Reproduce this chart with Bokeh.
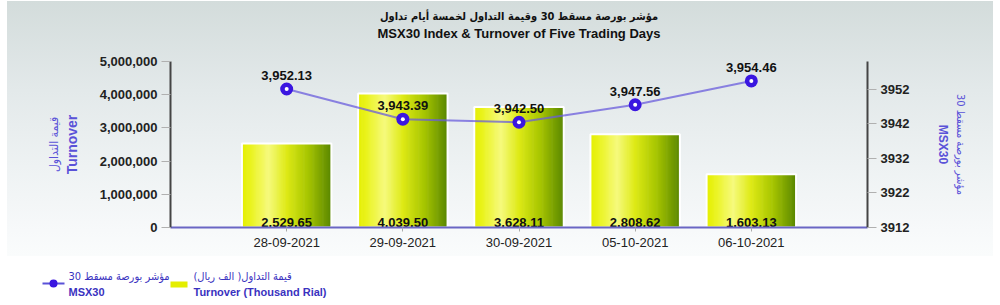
import numpy as np
from bokeh.plotting import figure
from bokeh.models import (Range1d, LinearAxis, FixedTicker, NumeralTickFormatter, Title)
from bokeh.layouts import column
from bokeh.embed import file_html
from bokeh.resources import INLINE
from bokeh.core.properties import value

# ---------------- data ----------------
dates = ["28-09-2021", "29-09-2021", "30-09-2021", "05-10-2021", "06-10-2021"]
turnover_k = [2529.65, 4039.50, 3628.11, 2808.62, 1603.13]   # thousand rial (labels)
msx30 = [3952.13, 3943.39, 3942.50, 3947.56, 3954.46]
left_ticks = [0, 1000000, 2000000, 3000000, 4000000, 5000000]
right_ticks = [3912, 3922, 3932, 3942, 3952]

title_ar = "مؤشر بورصة مسقط 30 وقيمة التداول لخمسة أيام تداول"
title_en = "MSX30 Index & Turnover of Five Trading Days"
left_label_en = "Turnover"
left_label_ar = "قيمة التداول"
right_label_en = "MSX30"
right_label_ar = "مؤشر بورصة مسقط 30"
legend_line_ar = "مؤشر بورصة مسقط 30"
legend_line_en = "MSX30"
legend_bar_ar = "قيمة التداول( الف ريال)"
legend_bar_en = "Turnover (Thousand Rial)"

# ---------------- styles ----------------
NUM_FONT = "Liberation Sans, Arial, sans-serif"
AR_FONT = "DejaVu Sans Condensed, DejaVu Sans, sans-serif"
AXIS_BLUE = "#5a52d8"
LEG_BLUE = "#3a32c0"

idx = list(range(len(dates)))
bar_vals = [v * 1000 for v in turnover_k]

p = figure(width=1000, height=258, x_range=Range1d(-1, 5), y_range=Range1d(0, 5000000),
           toolbar_location=None, output_backend="svg",
           min_border_left=170, min_border_right=133, min_border_top=61, min_border_bottom=31,
           title=None)
p.styles = {
    "background-color": "white",
    "background-image": "linear-gradient(180deg, #d3dcdb 0%, #e3e9ea 35%, #eef2f3 65%, #f7f9fa 90%, #fafcfc 100%)",
    "background-size": "986px 255px",
    "background-position": "7px 1px",
    "background-repeat": "no-repeat",
}
p.border_fill_color = None
p.background_fill_color = None
p.outline_line_color = None
p.xgrid.visible = False
p.ygrid.visible = False
p.extra_y_ranges = {"right": Range1d(3912, 3960.1)}

# titles (spacer nearest the frame, then English, then Arabic on top)
p.add_layout(Title(text=" ", text_font=NUM_FONT, text_font_size="17px", standoff=0), "above")
p.add_layout(Title(text=title_en, align="center", text_font=NUM_FONT, text_font_size="13px",
                   text_font_style="bold", text_color="#111111", standoff=0), "above")
p.add_layout(Title(text=title_ar, align="center", text_font=AR_FONT, text_font_size="11px",
                   text_font_style="bold", text_color="#111111", standoff=2), "above")

# ---------------- gradient bars ----------------
bw = 0.77
stops_pos = [0.0, 0.10, 0.30, 0.50, 0.75, 1.0]
stops_col = [(228, 238, 0), (234, 243, 30), (246, 250, 125), (222, 234, 22),
             (165, 196, 0), (90, 135, 0)]
N = 80
sx, sw, st, sc = [], [], [], []
for i, v in zip(idx, bar_vals):
    for k in range(N):
        f = (k + 0.5) / N
        rgb = [int(round(np.interp(f, stops_pos, [c[j] for c in stops_col]))) for j in range(3)]
        sx.append(i - bw / 2 + f * bw)
        sw.append(bw / N * 1.6)
        st.append(v)
        sc.append("#%02x%02x%02x" % tuple(rgb))
# keep the strips inside the bar outline
sx = [min(max(x, i - bw / 2 + w / 2), i + bw / 2 - w / 2)
      for x, w, i in zip(sx, sw, [j for j in idx for _ in range(N)])]
p.vbar(x=sx, width=sw, top=st, bottom=0, fill_color=sc, line_color=None)
p.vbar(x=idx, width=bw, top=bar_vals, bottom=0, fill_color=None, line_color="white", line_width=2)

# ---------------- line ----------------
p.line(idx, msx30, y_range_name="right", line_color="#6a5cdc", line_alpha=0.75, line_width=2)
p.scatter(idx, msx30, y_range_name="right", size=13, fill_color="#3a16e0", line_color=None)
p.scatter(idx, msx30, y_range_name="right", size=4, fill_color="white", line_color=None)

# ---------------- labels ----------------
p.text(x=idx, y=[0] * len(idx), text=[f"{v:,.2f}" for v in turnover_k],
       text_align="center", text_baseline="bottom", y_offset=-1,
       text_font=value("Liberation Sans"), text_font_size="13px", text_font_style="bold",
       text_color="#111111")
p.text(x=idx, y=msx30, y_range_name="right", text=[f"{v:,.2f}" for v in msx30],
       text_align="center", text_baseline="bottom", y_offset=-9,
       text_font=value("Liberation Sans"), text_font_size="13px", text_font_style="bold",
       text_color="#111111")

# ---------------- axes ----------------
xa = p.xaxis[0]
xa.ticker = FixedTicker(ticks=idx)
xa.major_label_overrides = {i: d for i, d in zip(idx, dates)}
xa.axis_line_color = "#6a66c4"
xa.axis_line_width = 2
xa.major_tick_line_color = "#aaaaaa"
xa.major_tick_out = 4
xa.major_tick_in = 0
xa.minor_tick_line_color = None
xa.major_label_standoff = 6
xa.major_label_text_font = NUM_FONT
xa.major_label_text_font_size = "13px"
xa.major_label_text_color = "#222222"

ya = p.yaxis[0]
ya.ticker = FixedTicker(ticks=left_ticks)
ya.formatter = NumeralTickFormatter(format="0,0")
ya.axis_line_color = "#444444"
ya.axis_line_width = 2
ya.major_tick_line_color = "#b0b0b0"
ya.major_tick_out = 9
ya.major_tick_in = 0
ya.minor_tick_line_color = None
ya.major_label_standoff = 4
ya.major_label_text_font = NUM_FONT
ya.major_label_text_font_size = "13px"
ya.major_label_text_font_style = "bold"
ya.major_label_text_color = "#222222"
ya.axis_label = left_label_en
ya.axis_label_text_font = NUM_FONT
ya.axis_label_text_font_size = "14px"
ya.axis_label_text_font_style = "bold"
ya.axis_label_text_color = AXIS_BLUE
ya.axis_label_standoff = 17

ya2 = LinearAxis(ticker=FixedTicker(ticks=[]), axis_line_color=None, major_tick_line_color=None,
                 minor_tick_line_color=None, major_label_text_font_size="0px",
                 axis_label=left_label_ar, axis_label_text_font=AR_FONT,
                 axis_label_text_font_size="12px", axis_label_text_font_style="normal",
                 axis_label_text_color=AXIS_BLUE, axis_label_standoff=0)
p.add_layout(ya2, "left")

ra = LinearAxis(y_range_name="right", ticker=FixedTicker(ticks=right_ticks),
                axis_line_color="#444444", axis_line_width=2,
                major_tick_line_color="#b0b0b0", major_tick_out=9, major_tick_in=0,
                minor_tick_line_color=None, major_label_standoff=4,
                major_label_text_font=NUM_FONT, major_label_text_font_size="13px",
                major_label_text_font_style="bold", major_label_text_color="#222222",
                axis_label=right_label_en, axis_label_text_font=NUM_FONT,
                axis_label_text_font_size="12px", axis_label_text_font_style="bold",
                axis_label_text_color=AXIS_BLUE, axis_label_standoff=24)
p.add_layout(ra, "right")
ra2 = LinearAxis(y_range_name="right", ticker=FixedTicker(ticks=[]), axis_line_color=None,
                 major_tick_line_color=None, minor_tick_line_color=None,
                 major_label_text_font_size="0px",
                 axis_label=right_label_ar, axis_label_text_font=AR_FONT,
                 axis_label_text_font_size="11px", axis_label_text_font_style="normal",
                 axis_label_text_color=AXIS_BLUE, axis_label_standoff=0)
p.add_layout(ra2, "right")

# ---------------- legend strip ----------------
leg = figure(width=1000, height=47, x_range=Range1d(0, 1000), y_range=Range1d(305, 258),
             toolbar_location=None, output_backend="svg", min_border=0,
             x_axis_location=None, y_axis_location=None, outline_line_color=None,
             background_fill_color="white", border_fill_color="white")
leg.frame_align = False
p.frame_align = False
leg.xgrid.visible = False
leg.ygrid.visible = False
leg.line([42, 64], [283, 283], line_color="#5a52d8", line_width=2)
leg.scatter([53], [283], size=8, fill_color="#3a16e0", line_color=None)
leg.rect([178.5], [284], width=17, height=6, fill_color="#e4ee00", line_color=None)
leg.text(x=[68, 68, 193, 193], y=[276, 291, 276, 291],
         text=[legend_line_ar, legend_line_en, legend_bar_ar, legend_bar_en],
         text_align="left", text_baseline="middle",
         text_font=[AR_FONT, NUM_FONT, AR_FONT, NUM_FONT],
         text_font_size=["11px", "11px", "11px", "11px"],
         text_font_style=["normal", "bold", "normal", "bold"],
         text_color=LEG_BLUE)

layout = column(p, leg, spacing=0)
open("out.html", "w").write(file_html(layout, INLINE))
